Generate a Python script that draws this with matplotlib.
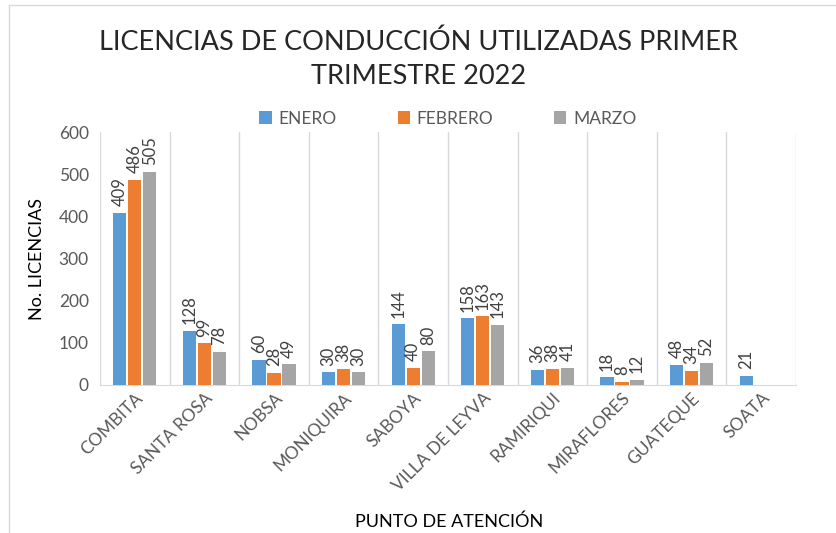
import numpy as np
import matplotlib.pyplot as plt
from matplotlib.lines import Line2D

plt.rcParams['font.family'] = ['Lato', 'DejaVu Sans']

# datos
puntos = ["COMBITA", "SANTA ROSA", "NOBSA", "MONIQUIRA", "SABOYA",
          "VILLA DE LEYVA", "RAMIRIQUI", "MIRAFLORES", "GUATEQUE", "SOATA"]
enero = [409, 128, 60, 30, 144, 158, 36, 18, 48, 21]
febrero = [486, 99, 28, 38, 40, 163, 38, 8, 34, None]
marzo = [505, 78, 49, 30, 80, 143, 41, 12, 52, None]

series = [("ENERO", enero, "#5b9bd5"),
          ("FEBRERO", febrero, "#ed7d31"),
          ("MARZO", marzo, "#a5a5a5")]

fig = plt.figure(figsize=(8.37, 5.33), dpi=100)
ax = fig.add_axes([0.1195, 0.2777, 0.8315, 0.4746])

# borde del grafico (arriba e izquierda)
fig.add_artist(Line2D([9 / 837, 1], [1 - 5 / 533] * 2, transform=fig.transFigure,
                      color="#d9d9d9", lw=1))
fig.add_artist(Line2D([9 / 837] * 2, [0, 1 - 5 / 533], transform=fig.transFigure,
                      color="#d9d9d9", lw=1))

x = np.arange(len(puntos))
ancho = 0.19
paso = 0.215
txt_color = "#595959"

for i, (nombre, vals, color) in enumerate(series):
    v = np.array([np.nan if a is None else a for a in vals], dtype=float)
    pos = x + (i - 1) * paso
    ax.bar(pos, v, width=ancho, color=color, label=nombre, zorder=3)
    for px, py in zip(pos, v):
        if np.isnan(py):
            continue
        ax.text(px, py + 16, str(int(py)), rotation=90, ha="center", va="bottom",
                fontsize=12, color="#404040")

ax.set_xlim(-0.5, len(puntos) - 0.5)
ax.set_ylim(0, 600)
ax.set_yticks(range(0, 601, 100))

# lineas verticales entre categorias
for b in np.arange(-0.5, len(puntos), 1.0):
    ax.axvline(b, color="#d9d9d9", lw=1, zorder=1)

for s in ["top", "right", "left"]:
    ax.spines[s].set_visible(False)
ax.spines["bottom"].set_color("#d9d9d9")
ax.tick_params(axis="both", length=0, colors=txt_color, labelsize=12.5)
ax.tick_params(axis="y", pad=8)
ax.set_xticks(x)
ax.set_xticklabels(puntos, rotation=45, ha="right", rotation_mode="anchor",
                   fontsize=12.5, color=txt_color)

ax.set_ylabel("No. LICENCIAS", fontsize=13, color="black", labelpad=10)
fig.text(449 / 837, 1 - 522 / 533, "PUNTO DE ATENCIÓN", ha="center", va="center",
         fontsize=13, color="black")

fig.text(0.5, 0.945, "LICENCIAS DE CONDUCCIÓN UTILIZADAS PRIMER\nTRIMESTRE 2022",
         ha="center", va="top", fontsize=19.5, color="#262626", linespacing=1.45)

ax.legend(loc="lower center", bbox_to_anchor=(0.5, 0.96), ncol=3, frameon=False,
          fontsize=12.5, handlelength=0.7, handleheight=0.7, columnspacing=3.5,
          handletextpad=0.4, labelcolor=txt_color)

fig.savefig("out.png", dpi=100)
